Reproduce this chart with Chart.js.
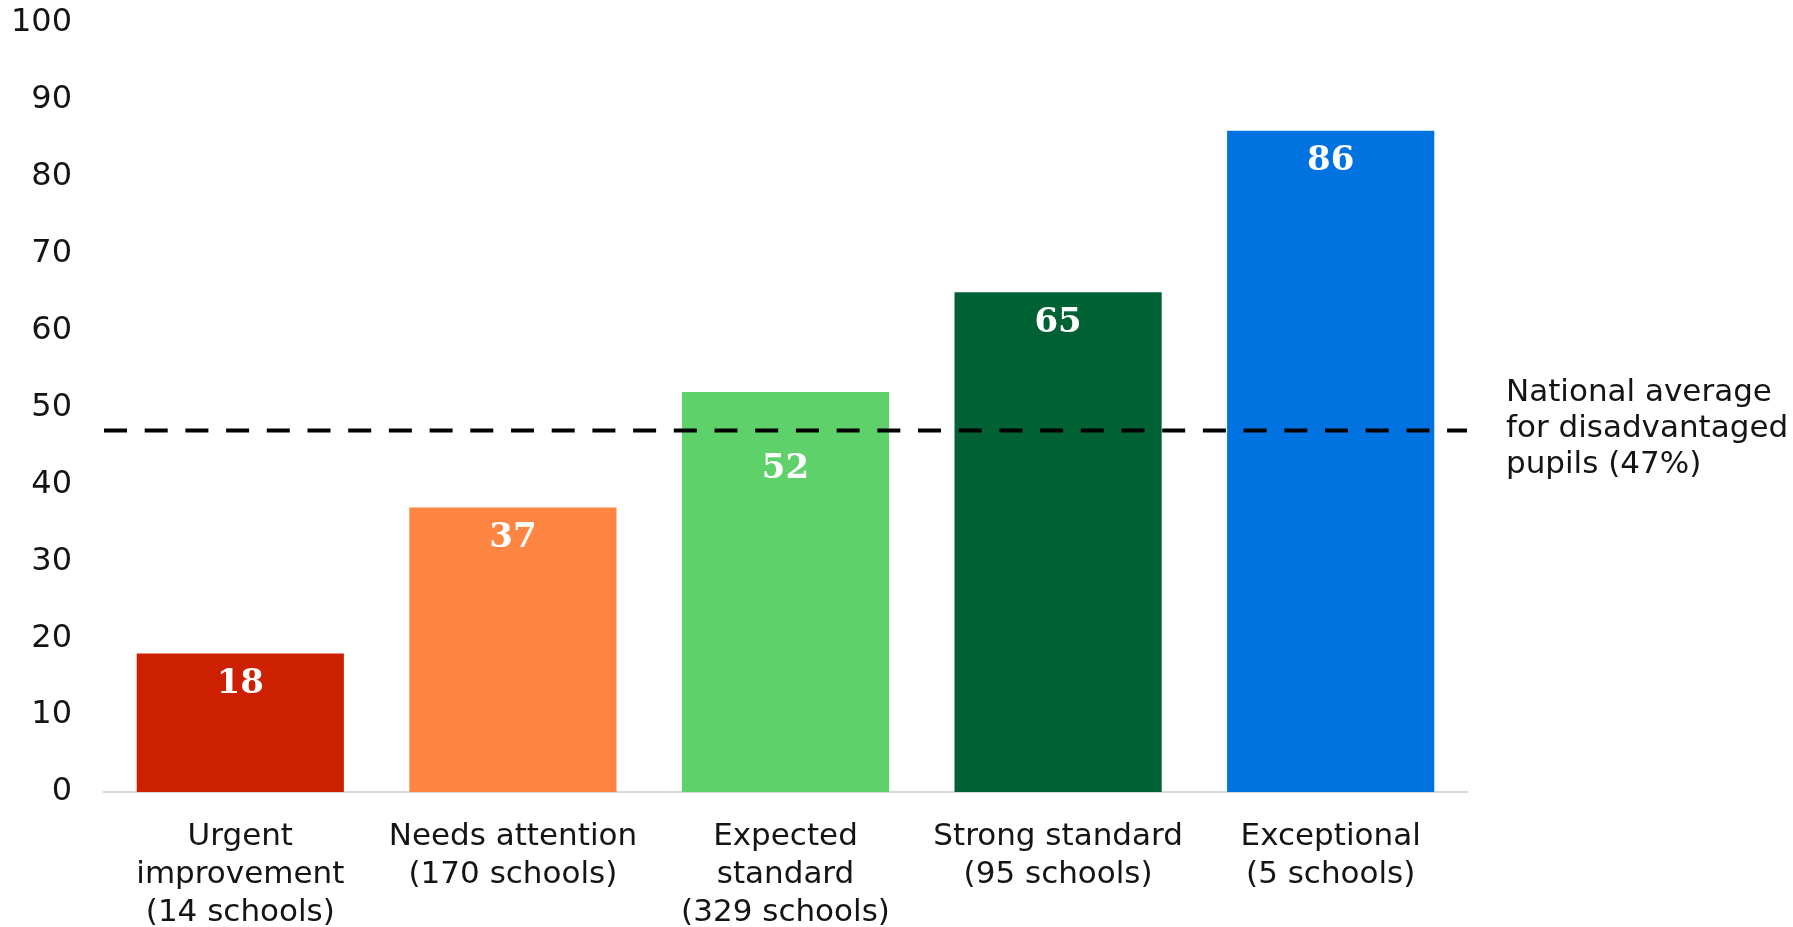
<!DOCTYPE html>
<html>
<head>
<meta charset="utf-8">
<title>Disadvantaged pupils by school rating</title>
<script src="https://cdn.jsdelivr.net/npm/chart.js@4"></script>
<style>
    body { margin: 0; background: #fff; }
    canvas { display: block; }
</style>
</head>
<body>
<canvas id="myChart" width="1793" height="927"></canvas>
<script>
// categories (multi-line labels)
const categories = [
    ['Urgent', 'improvement', '(14 schools)'],
    ['Needs attention', '(170 schools)'],
    ['Expected', 'standard', '(329 schools)'],
    ['Strong standard', '(95 schools)'],
    ['Exceptional', '(5 schools)']
];
const values = [18, 37, 52, 65, 86];
const barColors = ['#cc2000', '#ff8542', '#5ed16a', '#006135', '#0073e0'];
const nationalAverage = 47;
const averageLabel = ['National average', 'for disadvantaged', 'pupils (47%)'];
const yTicks = [0, 10, 20, 30, 40, 50, 60, 70, 80, 90, 100];

const textColor = '#141414';

// dashed national average line + its text
const averageLine = {
    id: 'averageLine',
    afterDatasetsDraw(chart) {
        const { ctx, chartArea, scales } = chart;
        const y = scales.y.getPixelForValue(nationalAverage);
        ctx.save();
        ctx.strokeStyle = '#000';
        ctx.lineWidth = 4;
        ctx.setLineDash([23, 17.7]);
        ctx.beginPath();
        ctx.moveTo(chartArea.left, y);
        ctx.lineTo(chartArea.right, y);
        ctx.stroke();
        ctx.setLineDash([]);
        ctx.fillStyle = textColor;
        ctx.font = '31px "DejaVu Sans"';
        ctx.textBaseline = 'middle';
        ctx.textAlign = 'left';
        averageLabel.forEach((line, i) => {
            ctx.fillText(line, chartArea.right + 39, y - 38 + i * 36);
        });
        ctx.restore();
    }
};

// value labels inside the bars
const barLabels = {
    id: 'barLabels',
    afterDatasetsDraw(chart) {
        const { ctx } = chart;
        const meta = chart.getDatasetMeta(0);
        ctx.save();
        ctx.fillStyle = '#fff';
        ctx.font = 'bold 34px "DejaVu Serif"';
        ctx.textAlign = 'center';
        ctx.textBaseline = 'middle';
        meta.data.forEach((bar, i) => {
            // the 52 label sits below the dashed line
            const offset = i === 2 ? 77 : 31;
            ctx.fillText(String(values[i]), bar.x, bar.y + offset);
        });
        ctx.restore();
    }
};

const ctx = document.getElementById('myChart').getContext('2d');
// eslint-disable-next-line no-undef
new Chart(ctx, {
    type: 'bar',
    data: {
        labels: categories,
        datasets: [{
            data: values,
            backgroundColor: barColors,
            borderWidth: 0,
            barPercentage: 0.76,
            categoryPercentage: 1
        }]
    },
    options: {
        responsive: false,
        animation: false,
        layout: {
            padding: { top: 23, right: 326, bottom: 0, left: 0 }
        },
        plugins: {
            legend: { display: false },
            tooltip: { enabled: false }
        },
        scales: {
            x: {
                grid: { display: false, drawTicks: false },
                border: { display: true, color: '#d9d9d9', width: 2 },
                ticks: {
                    color: textColor,
                    padding: 26,
                    maxRotation: 0,
                    autoSkip: false,
                    font: { family: 'DejaVu Sans', size: 31, lineHeight: 1.22 }
                },
                afterFit(scale) { scale.height = 135; }
            },
            y: {
                min: 0,
                max: 100,
                grid: { display: false, drawTicks: false },
                border: { display: false },
                afterBuildTicks(scale) {
                    scale.ticks = yTicks.map(v => ({ value: v }));
                },
                ticks: {
                    color: textColor,
                    padding: 32,
                    font: { family: 'DejaVu Sans', size: 32 }
                },
                afterFit(scale) {
                    scale.width = 104;
                    // tick padding should not push the plot area down
                    scale.paddingTop = 0;
                    scale.paddingBottom = 0;
                }
            }
        }
    },
    plugins: [averageLine, barLabels]
});
</script>
</body>
</html>
